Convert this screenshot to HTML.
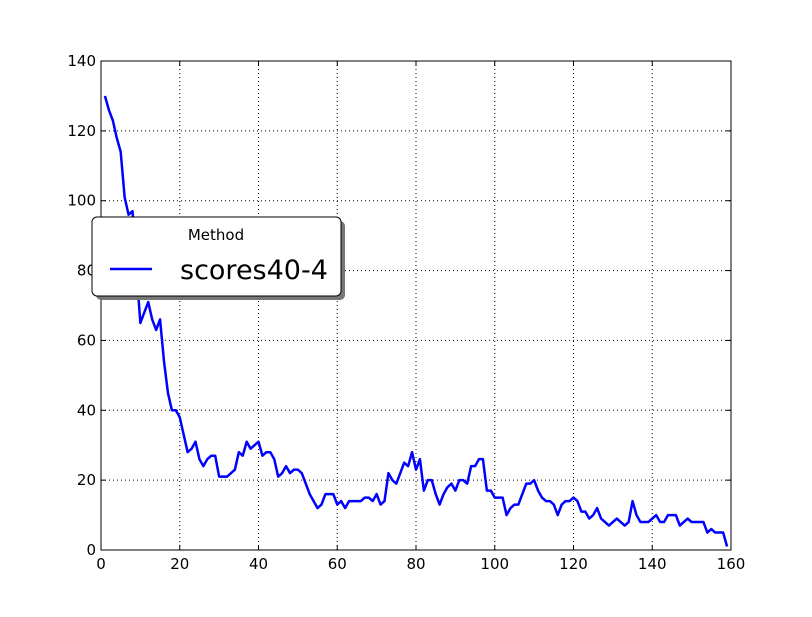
<!DOCTYPE html>
<html><head><meta charset="utf-8"><style>
body{margin:0;background:#fff;width:812px;height:612px;overflow:hidden}
svg{font-family:"DejaVu Sans","Liberation Sans",sans-serif}
</style></head><body>
<svg id="chart" width="812" height="612">
<rect x="0" y="0" width="812" height="612" fill="#fff"/>
<g id="grid"></g><g id="ticks"></g>
<polyline id="line" fill="none" stroke="#0000ff" stroke-width="2.5" stroke-linejoin="round"/>
<rect x="101" y="61" width="630" height="489" fill="none" stroke="#000" stroke-width="1"/>
<g>
<rect x="96" y="221" width="249" height="79" rx="5" fill="#777"/>
<rect x="92" y="217" width="249" height="79" rx="5" fill="#fff" stroke="#000" stroke-width="1"/>
<text x="216" y="240" font-size="15" text-anchor="middle">Method</text>
<line x1="110" y1="269" x2="152" y2="269" stroke="#0000ff" stroke-width="2.5"/>
<text x="180" y="279" font-size="27">scores40-4</text>
</g>
</svg>
<script>
const values=[130,126,123,118,114,101,96,97,80,65,68,71,66,63,66,54,45,40,40,38,33,28,29,31,26,24,26,27,27,21,21,21,22,23,28,27,31,29,30,31,27,28,28,26,21,22,24,22,23,23,22,19,16,14,12,13,16,16,16,13,14,12,14,14,14,14,15,15,14,16,13,14,22,20,19,22,25,24,28,23,26,17,20,20,16,13,16,18,19,17,20,20,19,24,24,26,26,17,17,15,15,15,10,12,13,13,16,19,19,20,17,15,14,14,13,10,13,14,14,15,14,11,11,9,10,12,9,8,7,8,9,8,7,8,14,10,8,8,8,9,10,8,8,10,10,10,7,8,9,8,8,8,8,5,6,5,5,5,1];
const xTicks=[0,20,40,60,80,100,120,140,160];
const yTicks=[0,20,40,60,80,100,120,140];
const X=v=>101+v*630/160, Y=v=>550-v*489/140;
const ns="http://www.w3.org/2000/svg";
const g=document.getElementById('grid'), t=document.getElementById('ticks');
function mk(tag,attrs,parent){const e=document.createElementNS(ns,tag);for(const k in attrs)e.setAttribute(k,attrs[k]);parent.appendChild(e);return e;}
xTicks.forEach(v=>{
 const x=X(v);
 if(v>0&&v<160){const l=mk('line',{x1:x,y1:61,x2:x,y2:550,stroke:'#000','stroke-dasharray':'1,3','stroke-width':1},g);
 
 }
 mk('line',{x1:x,y1:550,x2:x,y2:545,stroke:'#000'},t);
 mk('line',{x1:x,y1:61,x2:x,y2:66,stroke:'#000'},t);
 const tx=mk('text',{x:x,y:569,'font-size':15,'text-anchor':'middle'},t);tx.textContent=v;
 
 
});
yTicks.forEach(v=>{
 const y=Y(v);
 if(v>0&&v<140){const l=mk('line',{x1:101,y1:y,x2:731,y2:y,stroke:'#000','stroke-dasharray':'1,3','stroke-width':1},g);
 
 }
 mk('line',{x1:101,y1:y,x2:106,y2:y,stroke:'#000'},t);
 mk('line',{x1:731,y1:y,x2:726,y2:y,stroke:'#000'},t);
 const tx=mk('text',{x:96,y:y+5,'font-size':15,'text-anchor':'end'},t);tx.textContent=v;
 
 
});
document.getElementById('line').setAttribute('points',values.map((v,i)=>X(i+1)+','+Y(v)).join(' '));
</script>
</body></html>
